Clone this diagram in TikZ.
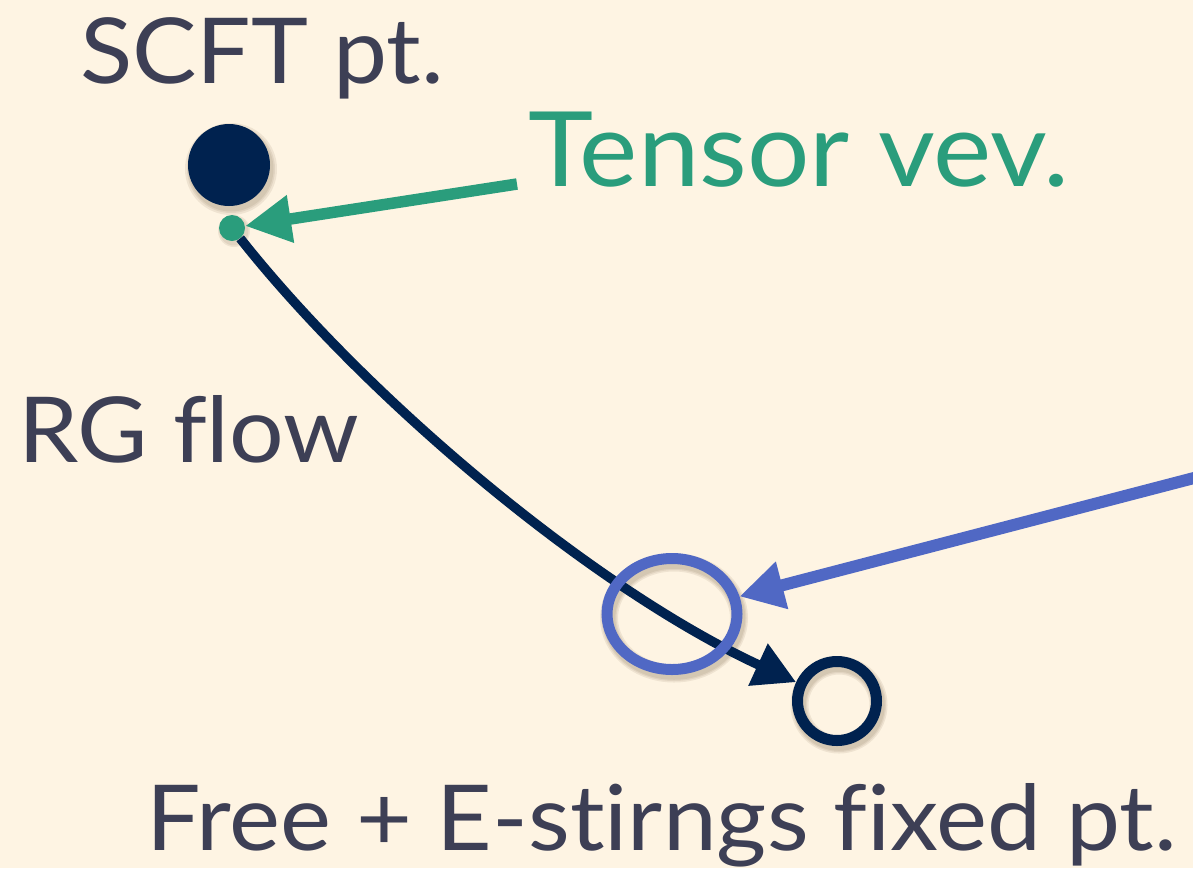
\documentclass[tikz,border=0pt]{standalone}
\usepackage{fontspec}
\setmainfont{Lato}[FakeStretch=1.06, Ligatures=NoCommon]
\usetikzlibrary{arrows.meta,shapes.geometric}

\definecolor{paper}{HTML}{FEF4E3}
\definecolor{ink}{HTML}{3D3F55}
\definecolor{navy}{HTML}{00224F}
\definecolor{vevgreen}{HTML}{2A9D7C}
\definecolor{periw}{HTML}{5068C4}
\definecolor{dropbrown}{HTML}{6B5536}

\tikzset{
  label/.style={inner sep=0pt, outer sep=0pt, anchor=base west, text=ink,
                font=\fontsize{91}{100}\selectfont},
  biglabel/.style={label, text=vevgreen, font=\fontsize{104}{110}\selectfont},
  bigdot/.style={circle, fill=navy, inner sep=0pt, minimum size=82pt},
  smalldot/.style={circle, fill=vevgreen, inner sep=0pt, minimum size=26pt},
  ring/.style={circle, draw=navy, line width=11pt, inner sep=0pt, minimum size=79pt},
  blob/.style={ellipse, draw=periw, line width=11pt, inner sep=0pt,
               minimum width=130pt, minimum height=111pt},
  flow/.style={draw=navy, line width=9.5pt,
               -{Triangle[length=42pt,width=44pt]}},
  vevarrow/.style={draw=vevgreen, line width=11.5pt,
                   -{Triangle[length=46pt,width=45pt]}},
  hintarrow/.style={draw=periw, line width=12pt,
                    -{Triangle[length=44pt,width=46pt]}},
  softshadow/.style={color=dropbrown, opacity=0.10},
}

\begin{document}
\begin{tikzpicture}[x=1pt,y=-1pt]
  % canvas
  \fill[paper] (0,0) rectangle (1193,868);
  \useasboundingbox (0,0) rectangle (1193,868);
  \clip (0,0) rectangle (1193,868);

  % soft drop shadows under the markers
  \foreach \r in {46,44,42.5} {
    \fill[softshadow] (231,169) circle (\r);
  }
  \foreach \r in {16,14.5} {
    \fill[softshadow] (234,231) circle (\r);
  }
  \foreach \w in {18,15,12.5} {
    \draw[softshadow, line width=\w pt] (839,705) circle (39.5);
    \draw[softshadow, line width=\w pt] (674,618) ellipse (65 and 55.5);
  }

  % fixed points
  \node[bigdot] (scft) at (229,165) {};
  \node[smalldot] (vev) at (232,228) {};
  \node[ring] (fix) at (837,701) {};

  % RG flow trajectory
  \draw[flow] (vev) .. controls (368,400) and (594,589) .. (fix);

  % highlighted stretch of the flow
  \node[blob] (zone) at (672,614) {};

  % labels
  \node[label] (scftlbl) at (80,83) {SCFT pt.};
  \node[biglabel] (vevlbl) at (528,186) {Tensor vev.};
  \node[label] (rglbl) at (18,462) {RG flow};
  \node[label] (fixlbl) at (146,850) {Free + E-stirngs fixed pt.};

  % pointers
  \coordinate (vevtail) at (517,184);
  \coordinate (hinttail) at (1240,466);
  \draw[vevarrow] (vevtail) -- (vev);
  \draw[hintarrow] (hinttail) -- (zone);
\end{tikzpicture}
\end{document}
